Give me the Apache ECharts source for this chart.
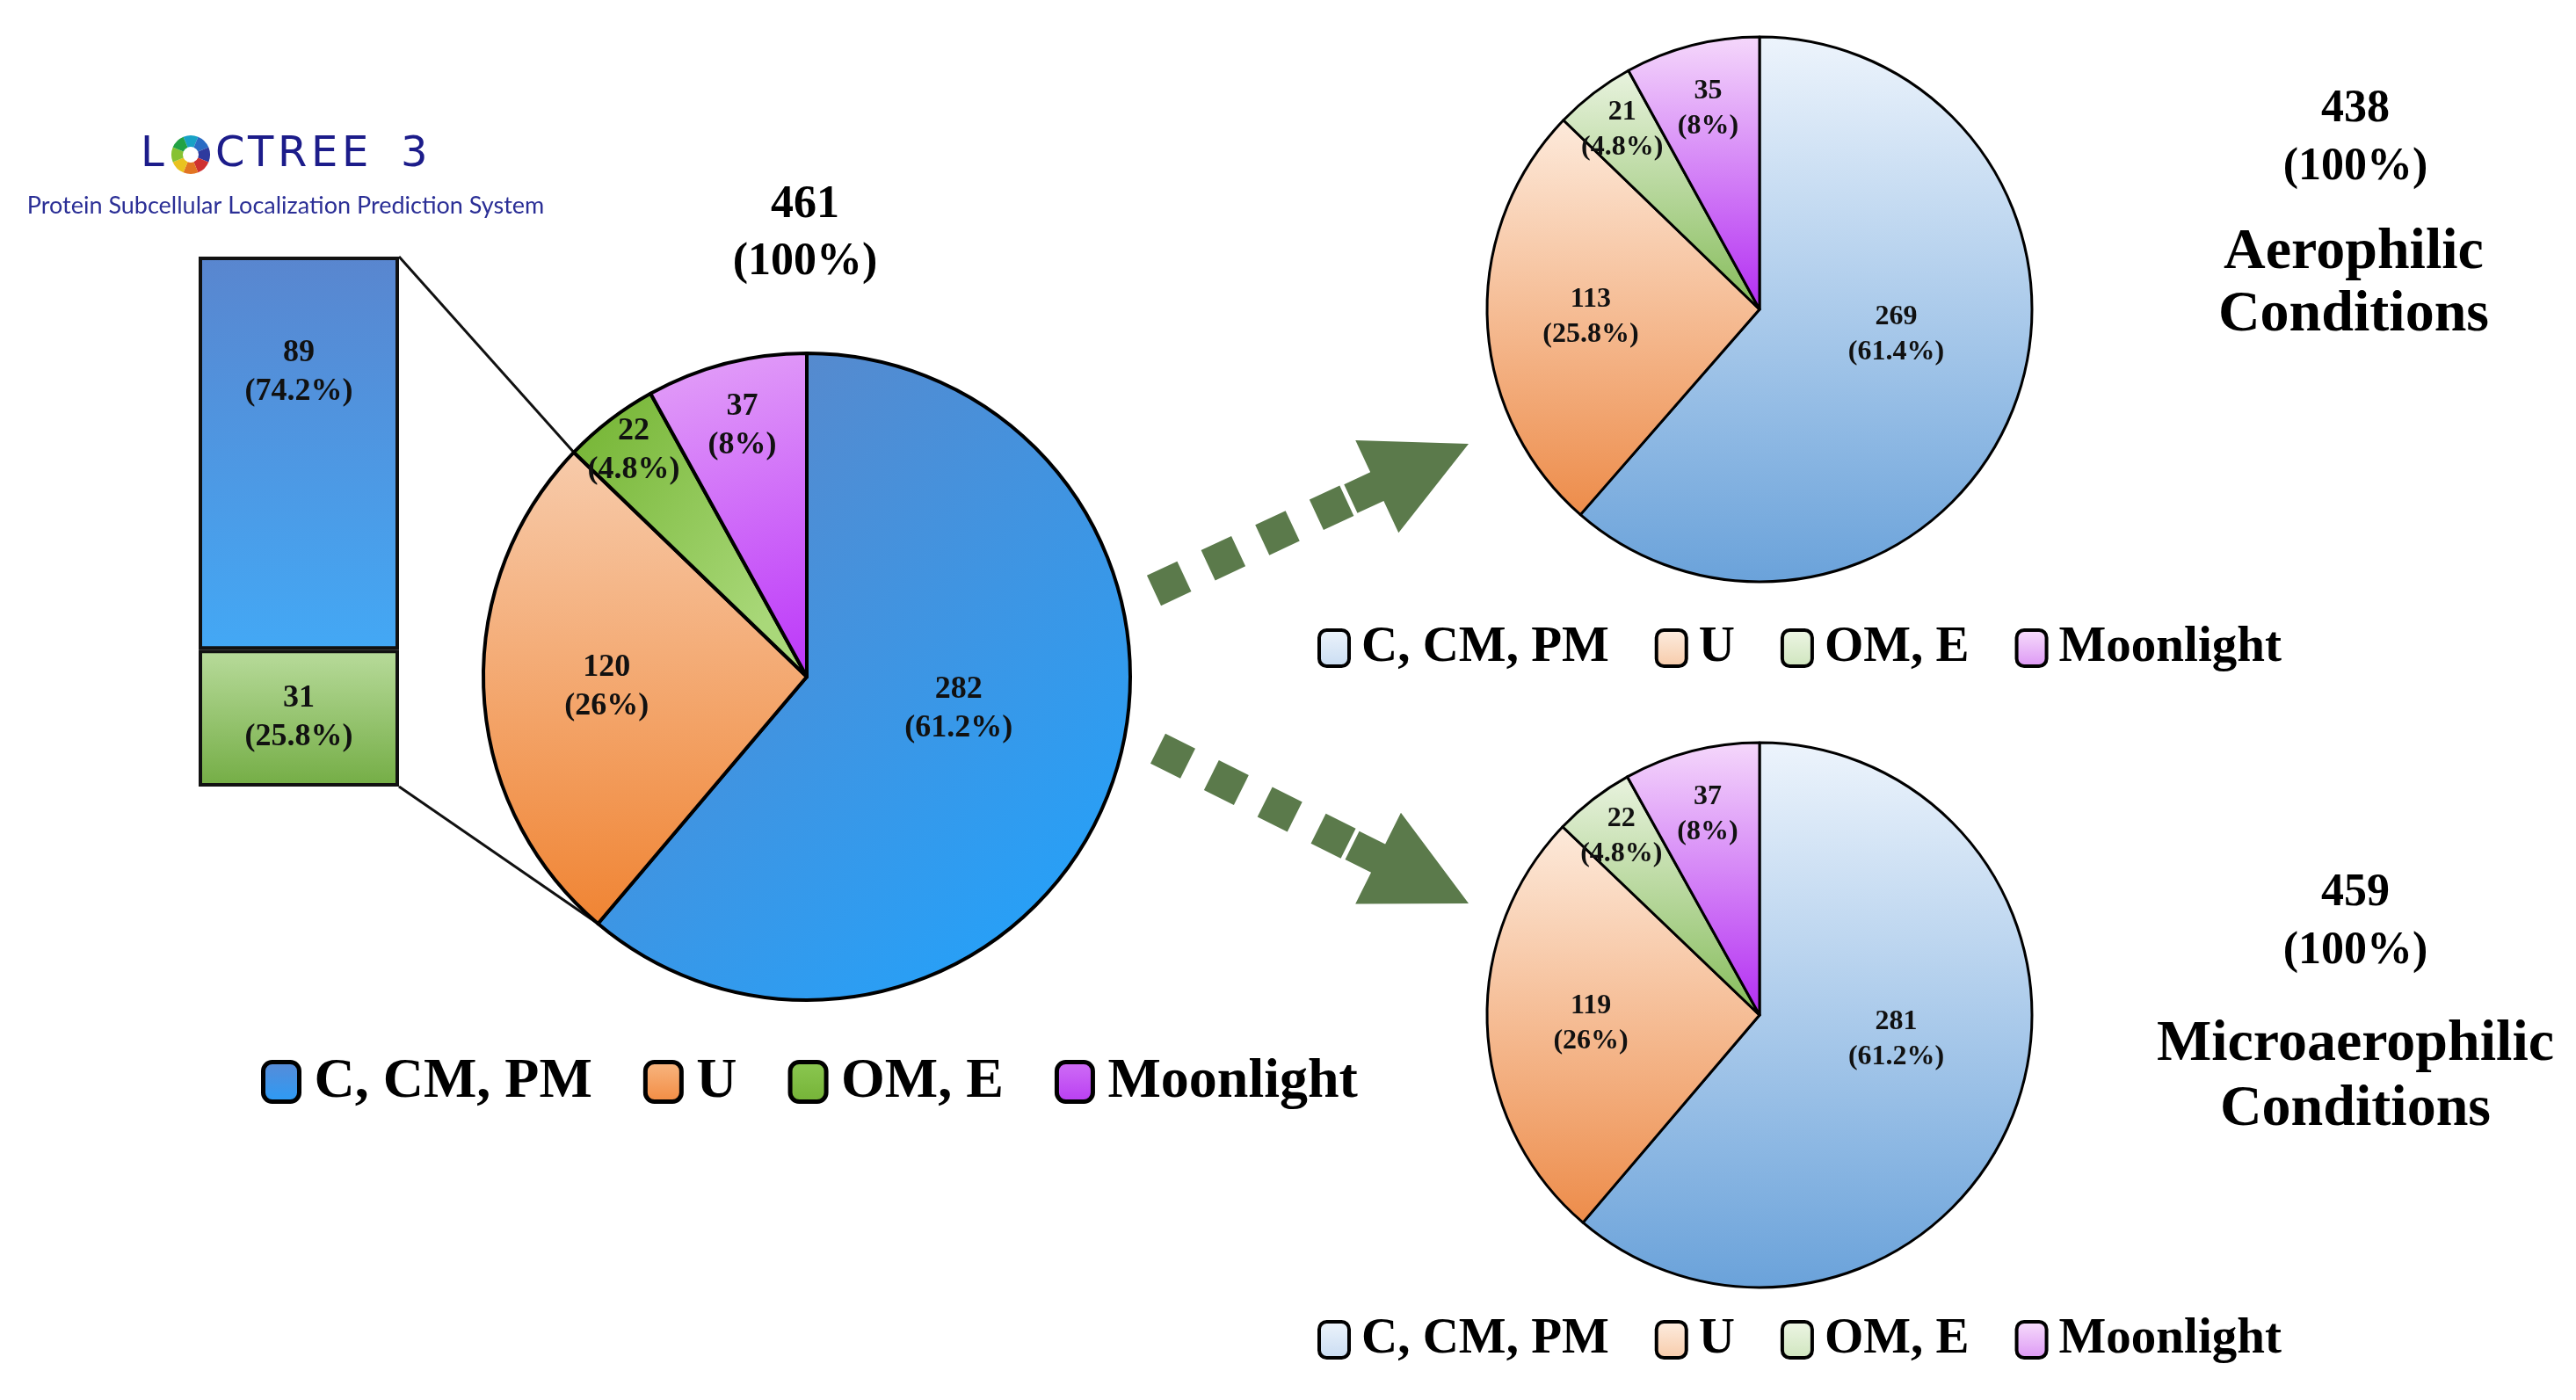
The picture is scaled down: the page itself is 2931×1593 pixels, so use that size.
<!DOCTYPE html>
<html><head><meta charset="utf-8">
<script src="https://cdn.jsdelivr.net/npm/echarts@6/dist/echarts.min.js"></script>
<style>html,body{margin:0;padding:0;background:#fff}#c{width:2931px;height:1593px}</style>
</head><body><div id="c"></div>
<script>
// ---------------- data ----------------
const categories = ['C, CM, PM', 'U', 'OM, E', 'Moonlight'];
const totalValues = [282, 120, 22, 37];
const totalPct = [61.2, 26, 4.8, 8];
const aeroValues = [269, 113, 21, 35];
const aeroPct = [61.4, 25.8, 4.8, 8];
const microValues = [281, 119, 22, 37];
const microPct = [61.2, 26, 4.8, 8];
const uSplitNames = ['C, CM, PM', 'OM, E'];
const uSplitValues = [89, 31];
const uSplitPct = [74.2, 25.8];
const aeroTitle = ['Aerophilic', 'Conditions'];
const microTitle = ['Microaerophilic', 'Conditions'];
const logoLetters = ['L', 'C', 'T', 'R', 'E', 'E', '3'];
const logoSub = 'Protein Subcellular Localization Prediction System';

// ---------------- layout / style ----------------
const SERIF = 'Liberation Serif';
const mainGeo = {cx: 918, cy: 770, r: 368};
const aeroGeo = {cx: 2002, cy: 352, r: 310};
const microGeo = {cx: 2002, cy: 1155, r: 310};
const logoX = [160, 245, 282, 316, 354, 389, 456];
const sum = a => a.reduce((x, y) => x + y, 0);

function lg(c1, c2, x2, y2) {
  return new echarts.graphic.LinearGradient(0, 0, x2, y2, [{offset: 0, color: c1}, {offset: 1, color: c2}]);
}
const mainColors = [lg('#6085c5', '#1ea4ff', 1, 1), lg('#f7cbab', '#f08433', 0, 1), lg('#72b330', '#a9d879', 1, 0.6), lg('#e4a3f8', '#bd3bf9', 0.6, 1)];
const lightColors = [lg('#edf4fc', '#6aa2da', 0, 1), lg('#fdeadb', '#ed8c4a', 0, 1), lg('#e9f3df', '#84bb58', 0, 1), lg('#f5d8fb', '#b22cf2', 0, 1)];
const mainLegendColors = [lg('#5a8ad6', '#2a9cf6', 0, 1), lg('#f8b884', '#f28a40', 0, 1), lg('#8cc852', '#74b236', 0, 1), lg('#d070f6', '#b83cf2', 0, 1)];
const lightLegendColors = [lg('#eef4fb', '#c8dcf2', 0, 1), lg('#fdeee2', '#f7caa8', 0, 1), lg('#eef6e6', '#cfe5bd', 0, 1), lg('#f8e0fc', '#dc96f4', 0, 1)];

function pieSeries(name, values, pcts, geo, colors, fs, lh, fracs, nudges, bw) {
  const total = sum(values);
  let cum = 0;
  const mids = values.map(v => { const s = 90 - 360 * cum / total; cum += v; return s - 180 * v / total; });
  return {
    type: 'pie', name, center: [geo.cx, geo.cy], radius: geo.r, startAngle: 90, clockwise: true,
    animation: false, avoidLabelOverlap: false, silent: true,
    itemStyle: {borderColor: '#000', borderWidth: bw},
    label: {show: true, position: 'inside', color: '#111', fontFamily: SERIF, fontWeight: 'bold', fontSize: fs, lineHeight: lh,
      formatter: p => values[p.dataIndex] + '\n(' + pcts[p.dataIndex] + '%)'},
    labelLine: {show: false},
    labelLayout: p => {
      const i = p.dataIndex; const a = (mids[i] + nudges[i]) * Math.PI / 180;
      return {x: geo.cx + fracs[i] * geo.r * Math.cos(a), y: geo.cy - fracs[i] * geo.r * Math.sin(a), align: 'center', verticalAlign: 'middle'};
    },
    emphasis: {disabled: true},
    data: categories.map((n, i) => ({name: n, value: values[i], itemStyle: {color: colors[i]}}))
  };
}

function legendOf(left, top, fs, iw, ih, gap, pad, bw, cols) {
  return {
    left, top, orient: 'horizontal', icon: 'roundRect', itemWidth: iw, itemHeight: ih, itemGap: gap, selectedMode: false,
    itemStyle: {borderColor: '#000', borderWidth: bw},
    textStyle: {fontFamily: SERIF, fontWeight: 'bold', fontSize: fs, color: '#000', padding: [0, 0, 0, pad]},
    data: categories.map((n, i) => ({name: n, itemStyle: {color: cols[i], borderColor: '#000', borderWidth: bw}}))
  };
}

// connector lines from the stacked bar to the U slice boundaries
const barBox = {left: 226, top: 292, width: 228, height: 603};
const mTot = sum(totalValues);
const uStartDeg = 90 - 360 * totalValues[0] / mTot;          // blue / orange boundary (lower-left)
const uEndDeg = uStartDeg - 360 * totalValues[1] / mTot;      // orange / green boundary (upper-left)
const ptOn = (g, deg) => [g.cx + g.r * Math.cos(deg * Math.PI / 180), g.cy - g.r * Math.sin(deg * Math.PI / 180)];

function arrow(tx, ty, deg) {
  const col = '#5b7a4b';
  const ch = [];
  const sq = 38;
  [-172, -240, -308, -376].forEach(c => ch.push({type: 'rect', shape: {x: c - sq / 2, y: -sq / 2, width: sq, height: sq}, style: {fill: col}}));
  ch.push({type: 'polygon', shape: {points: [[0, 0], [-115, -58], [-115, -18], [-148, -18], [-148, 18], [-115, 18], [-115, 58]]}, style: {fill: col}});
  return {type: 'group', x: tx, y: ty, rotation: deg * Math.PI / 180, children: ch};
}

const ringCols = ['#18a2c6', '#2a6cc4', '#2e3a9e', '#cf3030', '#e27422', '#e9c21f', '#86c232', '#22a244'];
const ring = ringCols.map((c, k) => ({type: 'sector', shape: {cx: 217, cy: 176, r0: 9, r: 22,
  startAngle: (-90 - 22.5 + k * 45) * Math.PI / 180, endAngle: (-90 + 22.5 + k * 45) * Math.PI / 180}, style: {fill: c}}));
const logo = logoLetters.map((l, k) => ({type: 'text', x: logoX[k], y: 177, style: {text: l, fontFamily: 'DejaVu Sans', fontSize: 48, fill: '#1c1c8a', verticalAlign: 'middle'}}));

const txt = (x, y, text, fs, lh, extra) => ({type: 'text', x, y, style: Object.assign({text, fontFamily: SERIF, fontWeight: 'bold', fontSize: fs, lineHeight: lh, fill: '#000', align: 'center', verticalAlign: 'middle'}, extra || {})});

const chart = echarts.init(document.getElementById('c'), null, {renderer: 'canvas', width: 2931, height: 1593});
const pLow = ptOn(mainGeo, uStartDeg), pUp = ptOn(mainGeo, uEndDeg);

chart.setOption({
  backgroundColor: '#fff',
  animation: false,
  grid: {left: barBox.left, top: barBox.top, width: barBox.width, height: barBox.height, containLabel: false},
  xAxis: {type: 'category', data: ['U'], show: false},
  yAxis: {type: 'value', min: 0, max: sum(uSplitValues), show: false},
  legend: [
    legendOf(292, 1194, 64, 41, 45, 58, 12, 5, mainLegendColors),
    legendOf(1494, 704, 57, 34, 41, 52, 9, 4, lightLegendColors),
    legendOf(1494, 1491, 57, 34, 41, 52, 9, 4, lightLegendColors)
  ],
  series: [
    {type: 'bar', name: uSplitNames[1], stack: 'u', barWidth: '100%', silent: true,
     itemStyle: {color: lg('#b8db9b', '#74ad45', 0, 1), borderColor: '#111', borderWidth: 4},
     label: {show: true, position: 'inside', color: '#111', fontFamily: SERIF, fontWeight: 'bold', fontSize: 36, lineHeight: 44,
       formatter: () => uSplitValues[1] + '\n(' + uSplitPct[1] + '%)'},
     data: [uSplitValues[1]]},
    {type: 'bar', name: uSplitNames[0], stack: 'u', barWidth: '100%', silent: true,
     itemStyle: {color: lg('#5986cf', '#43a8f5', 0, 1), borderColor: '#111', borderWidth: 4},
     label: {show: true, position: 'insideTop', distance: 88, color: '#111', fontFamily: SERIF, fontWeight: 'bold', fontSize: 36, lineHeight: 44,
       formatter: () => uSplitValues[0] + '\n(' + uSplitPct[0] + '%)'},
     data: [uSplitValues[0]]},
    pieSeries('Total', totalValues, totalPct, mainGeo, mainColors, 36, 44, [0.48, 0.62, 0.88, 0.80], [8, 0, 0, 0], 4),
    pieSeries('Aerophilic', aeroValues, aeroPct, aeroGeo, lightColors, 32, 40, [0.51, 0.62, 0.83, 0.76], [10, 0, 0, 0], 3),
    pieSeries('Microaerophilic', microValues, microPct, microGeo, lightColors, 32, 40, [0.51, 0.62, 0.83, 0.76], [10, 0, 0, 0], 3)
  ],
  graphic: [
    {type: 'line', shape: {x1: barBox.left + barBox.width, y1: barBox.top, x2: pUp[0], y2: pUp[1]}, style: {stroke: '#111', lineWidth: 3}, z: 1},
    {type: 'line', shape: {x1: barBox.left + barBox.width, y1: barBox.top + barBox.height, x2: pLow[0], y2: pLow[1]}, style: {stroke: '#111', lineWidth: 3}, z: 1},
    ...logo,
    ...ring,
    {type: 'text', x: 325, y: 234, style: {text: logoSub, fontFamily: 'Lato', fontSize: 27, fill: '#2b2f96', align: 'center', verticalAlign: 'middle'}},
    txt(916, 266, sum(totalValues) + '\n(100%)', 52, 65),
    txt(2680, 158, sum(aeroValues) + '\n(100%)', 52, 66),
    txt(2678, 323, aeroTitle.join('\n'), 66, 71),
    txt(2680, 1050, sum(microValues) + '\n(100%)', 52, 66),
    txt(2680, 1226, microTitle.join('\n'), 66, 74),
    arrow(1671, 505, 25),
    arrow(1671, 1028, -26.5)
  ]
});
</script></body></html>
